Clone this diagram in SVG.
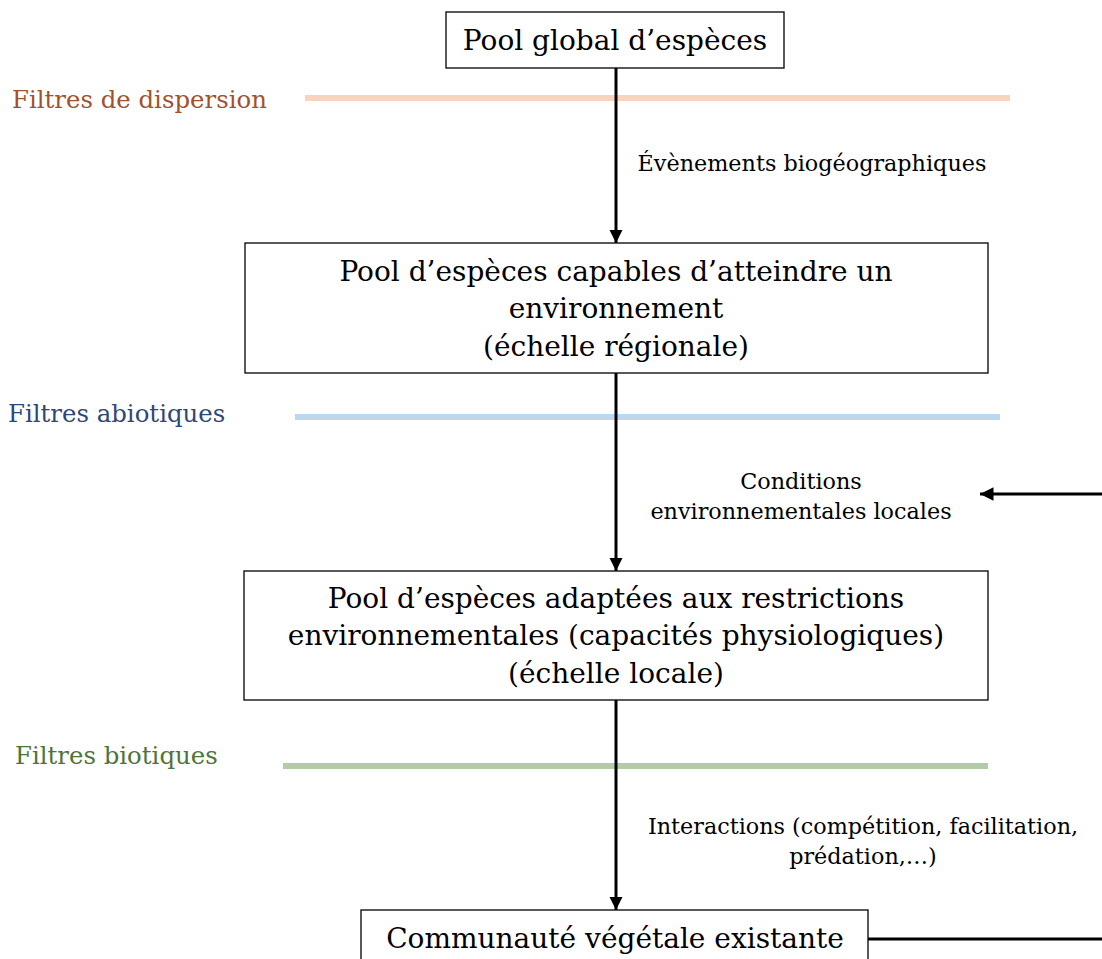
<svg xmlns="http://www.w3.org/2000/svg" width="1102" height="959" viewBox="0 0 1102 959">
<defs>
<style>
.box{fill:#fff;stroke:#000;stroke-width:1.3}
.bt{font-family:"DejaVu Serif","Liberation Serif",serif;font-size:28px;fill:#000;text-anchor:middle}
.lt{font-family:"DejaVu Serif","Liberation Serif",serif;font-size:22.3px;fill:#000;text-anchor:middle}
.ft{font-family:"DejaVu Serif","Liberation Serif",serif;font-size:24.4px}
.conn{stroke:#000;stroke-width:3;fill:none}
</style>
<marker id="ah" viewBox="0 0 10 10" refX="10" refY="5" markerWidth="4.5" markerHeight="4.5" orient="auto" markerUnits="strokeWidth">
<path d="M0,0 L10,5 L0,10 z" fill="#000"/>
</marker>
</defs>
<rect width="1102" height="959" fill="#fff"/>
<g id="filters">
<line x1="305" y1="98" x2="1010" y2="98" stroke="#F8D3BE" stroke-width="6"/>
<line x1="295" y1="417" x2="1000" y2="417" stroke="#BDD7EE" stroke-width="6"/>
<line x1="283" y1="766" x2="988" y2="766" stroke="#B4CBA8" stroke-width="6"/>
<text class="ft" x="12" y="108" fill="#A0522D">Filtres de dispersion</text>
<text class="ft" x="8" y="422" fill="#2F4775">Filtres abiotiques</text>
<text class="ft" x="15" y="764" fill="#4F7438">Filtres biotiques</text>
</g>
<g id="connectors">
<line class="conn" x1="616" y1="68" x2="616" y2="243" marker-end="url(#ah)"/>
<line class="conn" x1="616" y1="373" x2="616" y2="571" marker-end="url(#ah)"/>
<line class="conn" x1="616" y1="700" x2="616" y2="910" marker-end="url(#ah)"/>
<line class="conn" x1="1102" y1="494" x2="980" y2="494" marker-end="url(#ah)"/>
<line class="conn" x1="868" y1="939" x2="1102" y2="939"/>
<text class="lt" x="812" y="171">Évènements biogéographiques</text>
<text class="lt" x="801" y="489">Conditions</text>
<text class="lt" x="801" y="519">environnementales locales</text>
<text class="lt" x="863" y="834">Interactions (compétition, facilitation,</text>
<text class="lt" x="863" y="864">prédation,…)</text>
</g>
<g id="n1">
<rect class="box" x="446" y="12" width="338" height="56"/>
<text class="bt" x="615" y="50">Pool global d’espèces</text>
</g>
<g id="n2">
<rect class="box" x="245" y="243" width="743" height="130"/>
<text class="bt" x="616" y="281">Pool d’espèces capables d’atteindre un</text>
<text class="bt" x="616" y="318">environnement</text>
<text class="bt" x="616" y="356">(échelle régionale)</text>
</g>
<g id="n3">
<rect class="box" x="244" y="571" width="744" height="129"/>
<text class="bt" x="616" y="608">Pool d’espèces adaptées aux restrictions</text>
<text class="bt" x="616" y="645">environnementales (capacités physiologiques)</text>
<text class="bt" x="616" y="683">(échelle locale)</text>
</g>
<g id="n4">
<rect class="box" x="361" y="910" width="507" height="60"/>
<text class="bt" x="615" y="948">Communauté végétale existante</text>
</g>
</svg>
